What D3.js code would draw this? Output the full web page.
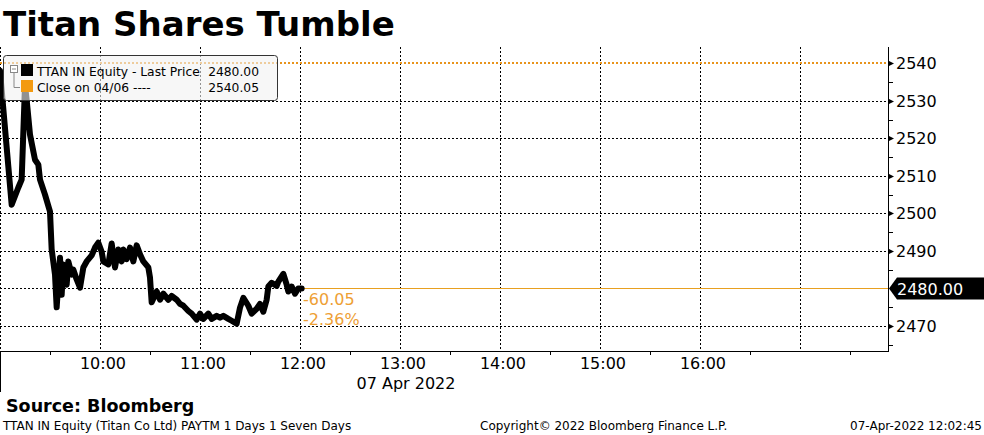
<!DOCTYPE html>
<html>
<head>
<meta charset="utf-8">
<script src="https://cdn.jsdelivr.net/npm/d3@7"></script>
<style>
  body { margin: 0; background: #fff; }
  svg text { font-family: "DejaVu Sans", Verdana, sans-serif; }
</style>
</head>
<body>
<div id="chart"></div>
<script>
// intraday prices, 07 Apr 2022
var times = ["09:00","09:07","09:11","09:13","09:15","09:16","09:18","09:21","09:23","09:24",
  "09:27","09:30","09:31","09:33","09:34","09:36","09:37","09:38","09:40","09:41",
  "09:43","09:44","09:46","09:48","09:50","09:52","09:55","09:57","09:59","10:01",
  "10:02","10:05","10:07","10:09","10:11","10:13","10:14","10:16","10:18","10:20",
  "10:22","10:24","10:26","10:29","10:30","10:31","10:34","10:36","10:38","10:41",
  "10:43","10:46","10:48","10:50","10:53","10:55","10:58","11:00","11:02","11:05",
  "11:07","11:10","11:12","11:14","11:17","11:19","11:22","11:24","11:26","11:29",
  "11:31","11:34","11:36","11:38","11:40","11:41","11:43","11:46","11:47","11:50",
  "11:52","11:53","11:55","11:57","11:59","12:01"];
var prices = [2538.0,2502.3,2506.9,2509.0,2534.2,2530.2,2521.0,2514.3,2513.0,2509.0,
  2505.0,2500.5,2490.4,2483.7,2475.0,2488.2,2478.3,2486.4,2481.0,2487.2,
  2483.7,2485.0,2482.4,2480.2,2485.6,2487.2,2488.8,2490.9,2492.2,2489.8,
  2487.2,2486.4,2492.0,2485.6,2490.4,2487.2,2490.4,2487.8,2490.9,2487.2,
  2491.5,2489.1,2487.2,2485.6,2482.9,2476.3,2479.2,2477.0,2478.6,2477.0,
  2478.0,2477.0,2475.9,2475.4,2474.0,2473.3,2471.7,2473.3,2471.9,2473.3,
  2471.9,2472.7,2472.2,2472.7,2471.9,2471.4,2470.6,2474.9,2477.5,2475.4,
  2473.3,2474.6,2475.9,2473.8,2477.0,2480.5,2481.5,2480.7,2481.8,2483.9,
  2481.0,2479.2,2480.5,2478.6,2480.0,2480.0];
var lastPrice = 2480.00;
var prevClose = 2540.05;
var change = "-60.05";
var changePct = "-2.36%";
var yTicks = [2470, 2480, 2490, 2500, 2510, 2520, 2530, 2540];
var hourLabels = ["10:00","11:00","12:00","13:00","14:00","15:00","16:00"];

var W = 984, H = 435;
var plotL = 0, plotR = 888, plotT = 47, plotB = 351;
var orange = "#eea035";

var parse = d3.timeParse("%Y-%m-%d %H:%M");
var day = "2022-04-07 ";
var data = times.map(function(t, i){ return {t: parse(day + t), v: prices[i]}; });

var svg = d3.select("#chart").append("svg").attr("width", W).attr("height", H);

var x = d3.scaleTime()
    .domain([parse(day + "09:00"), parse(day + "18:00")])
    .range([plotL, 900]);
var y = d3.scaleLinear().domain([2470, 2540]).range([326, 63.3]);

// title
svg.append("text").attr("x", 3).attr("y", 36)
  .style("font-size", "34px").style("font-weight", "bold")
  .text("Titan Shares Tumble");

// vertical grid
var hours = d3.range(9, 18).map(function(h){ return parse(day + d3.format("02")(h) + ":00"); });
svg.append("g").selectAll("line").data(hours).enter().append("line")
  .attr("x1", function(d){ return x(d) + 0.5; }).attr("x2", function(d){ return x(d) + 0.5; })
  .attr("y1", plotT).attr("y2", plotB)
  .attr("stroke", "#000").attr("stroke-dasharray", "2,2");

// horizontal grid
svg.append("g").selectAll("line").data(yTicks.filter(function(d){ return d != 2540; })).enter().append("line")
  .attr("x1", plotL).attr("x2", plotR)
  .attr("y1", function(d){ return Math.round(y(d)) + 0.5; }).attr("y2", function(d){ return Math.round(y(d)) + 0.5; })
  .attr("stroke", "#000").attr("stroke-dasharray", "2,2");

// previous close line
svg.append("line")
  .attr("x1", plotL).attr("x2", plotR)
  .attr("y1", Math.round(y(prevClose))).attr("y2", Math.round(y(prevClose)))
  .attr("stroke", "#e8941c").attr("stroke-width", 2).attr("stroke-dasharray", "2,2");

// last price line
var lastT = data[data.length - 1].t;
svg.append("line")
  .attr("x1", x(lastT)).attr("x2", plotR)
  .attr("y1", Math.round(y(lastPrice)) + 0.5).attr("y2", Math.round(y(lastPrice)) + 0.5)
  .attr("stroke", "#e8a020").attr("stroke-width", 1);

// price line
var line = d3.line().x(function(d){ return x(d.t); }).y(function(d){ return y(d.v); });
svg.append("path").datum(data)
  .attr("d", line)
  .attr("fill", "none").attr("stroke", "#000").attr("stroke-width", 6)
  .attr("stroke-linejoin", "round").attr("stroke-linecap", "round");

// change labels
svg.append("text").attr("x", 303).attr("y", 305).attr("fill", orange)
  .style("font-size", "16px").text(change);
svg.append("text").attr("x", 303).attr("y", 325).attr("fill", orange)
  .style("font-size", "16px").text(changePct);

// legend
var lg = svg.append("g");
lg.append("rect").attr("x", 3.5).attr("y", 55.5).attr("width", 274).attr("height", 45)
  .attr("rx", 3).attr("fill", "#f2f2f2").attr("fill-opacity", 0.6).attr("stroke", "#333");
lg.append("rect").attr("x", 10.5).attr("y", 65.5).attr("width", 7).attr("height", 7)
  .attr("fill", "#fff").attr("stroke", "#888");
lg.append("line").attr("x1", 12).attr("x2", 16).attr("y1", 69).attr("y2", 69).attr("stroke", "#888");
lg.append("path").attr("d", "M14,73V87.5H20").attr("fill", "none").attr("stroke", "#888");
lg.append("rect").attr("x", 21).attr("y", 64).attr("width", 12).attr("height", 12).attr("fill", "#000");
lg.append("rect").attr("x", 21).attr("y", 80).attr("width", 12).attr("height", 12).attr("fill", "#f39a10");
lg.append("text").attr("x", 37).attr("y", 76).style("font-size", "12.3px").text("TTAN IN Equity - Last Price");
lg.append("text").attr("x", 259).attr("y", 76).attr("text-anchor", "end").style("font-size", "12.3px")
  .text(d3.format(".2f")(lastPrice));
lg.append("text").attr("x", 37).attr("y", 92).style("font-size", "12.3px").text("Close on 04/06 ----");
lg.append("text").attr("x", 259).attr("y", 92).attr("text-anchor", "end").style("font-size", "12.3px")
  .text(d3.format(".2f")(prevClose));

// right axis
svg.append("line").attr("x1", plotR + 0.5).attr("x2", plotR + 0.5).attr("y1", plotT).attr("y2", plotB)
  .attr("stroke", "#000");
var minor = d3.range(2465, 2545, 5).filter(function(d){ return d % 10 != 0; });
svg.append("g").selectAll("line").data(minor).enter().append("line")
  .attr("x1", plotR).attr("x2", plotR + 5)
  .attr("y1", function(d){ return Math.round(y(d)) + 0.5; }).attr("y2", function(d){ return Math.round(y(d)) + 0.5; })
  .attr("stroke", "#000");
var majors = yTicks.filter(function(d){ return d != lastPrice; });
svg.append("g").selectAll("path").data(majors).enter().append("path")
  .attr("d", function(d){ var yy = Math.round(y(d)) + 0.5; return "M" + plotR + "," + (yy - 3) + "L" + (plotR + 6) + "," + yy + "L" + plotR + "," + (yy + 3) + "Z"; })
  .attr("fill", "#000");
svg.append("g").selectAll("text").data(majors).enter().append("text")
  .attr("x", 896).attr("y", function(d){ return y(d) + 6; })
  .style("font-size", "16px").text(function(d){ return d; });

// last price tag
var ly = Math.round(y(lastPrice)) + 0.5;
svg.append("path")
  .attr("d", "M" + (plotR + 1) + "," + ly + "L" + (plotR + 9) + "," + (ly - 11) + "H" + W + "V" + (ly + 11) + "H" + (plotR + 9) + "Z")
  .attr("fill", "#000");
svg.append("text").attr("x", 897).attr("y", ly + 6).attr("fill", "#fff")
  .style("font-size", "16px").text(d3.format(".2f")(lastPrice));

// bottom axis
svg.append("line").attr("x1", plotL).attr("x2", plotR + 1).attr("y1", plotB + 0.5).attr("y2", plotB + 0.5)
  .attr("stroke", "#000");
var halfHours = d3.range(9, 18).map(function(h){ return parse(day + d3.format("02")(h) + ":30"); });
svg.append("g").selectAll("line").data(halfHours).enter().append("line")
  .attr("x1", function(d){ return x(d) + 0.5; }).attr("x2", function(d){ return x(d) + 0.5; })
  .attr("y1", plotB).attr("y2", plotB + 4).attr("stroke", "#000");
svg.append("line").attr("x1", 0.5).attr("x2", 0.5).attr("y1", plotB).attr("y2", 392).attr("stroke", "#000");
svg.append("g").selectAll("text").data(hourLabels).enter().append("text")
  .attr("x", function(d){ return x(parse(day + d)) + 3; }).attr("y", 369)
  .attr("text-anchor", "middle").style("font-size", "16px").text(function(d){ return d; });
svg.append("text").attr("x", 406).attr("y", 389).attr("text-anchor", "middle")
  .style("font-size", "16px").text("07 Apr 2022");

// footer
svg.append("text").attr("x", 6).attr("y", 412).style("font-size", "17.5px").style("font-weight", "bold")
  .text("Source: Bloomberg");
svg.append("text").attr("x", 3).attr("y", 430).style("font-size", "12px")
  .text("TTAN IN Equity (Titan Co Ltd) PAYTM 1 Days 1 Seven Days");
svg.append("text").attr("x", 480).attr("y", 430).style("font-size", "12px")
  .text("Copyright\u00a9 2022 Bloomberg Finance L.P.");
svg.append("text").attr("x", 982).attr("y", 430).attr("text-anchor", "end").style("font-size", "12px")
  .text("07-Apr-2022 12:02:45");
</script>
</body>
</html>
